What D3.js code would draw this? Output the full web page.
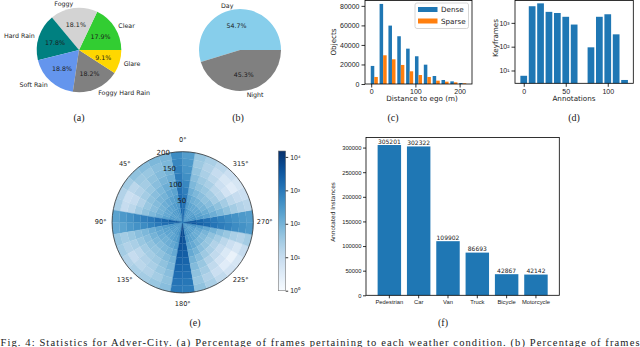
<!DOCTYPE html>
<html lang="en">
  <head>
    <meta charset="UTF-8" />
    <title>Adver-City statistics</title>
    <script src="https://cdn.jsdelivr.net/npm/d3@7"></script>
    <style>
      html,
      body {
        margin: 0;
        padding: 0;
        background: #fff;
      }
      svg {
        display: block;
        font-family: 'DejaVu Sans', sans-serif;
      }
      .serif {
        font-family: 'Liberation Serif', 'Times New Roman', serif;
      }
    </style>
  </head>
  <body>
    <svg width="640" height="347"></svg>
    <script>
      // (a) weather conditions
      const weatherLabels = ['Clear', 'Foggy', 'Hard Rain', 'Soft Rain', 'Foggy Hard Rain', 'Glare'];
      const weatherPct = [17.9, 18.1, 17.8, 18.8, 18.2, 9.1];
      const weatherColors = ['limegreen', 'lightgray', 'teal', 'cornflowerblue', 'gray', 'gold'];

      // (b) time of day
      const timeLabels = ['Day', 'Night'];
      const timePct = [54.7, 45.3];
      const timeColors = ['skyblue', 'gray'];

      // (c) distance histogram, bins of 20 m
      const distBinLeft = [-3, 17, 37, 57, 77, 97, 117, 137, 157, 177, 197];
      const denseCounts = [18500, 82000, 59800, 48900, 36200, 28400, 19800, 8200, 4100, 2700, 1000];
      const sparseCounts = [7200, 29400, 25300, 19500, 13000, 9200, 7200, 3400, 2400, 1700, 700];
      const distTicks = [0, 100, 200];
      const objectTicks = [0, 20000, 40000, 60000, 80000];

      // (d) keyframes per annotation count
      const annotationBins = [0, 10, 20, 30, 40, 50, 60, 70, 80, 90, 100, 110, 120];
      const keyframes = [6, 5000, 6600, 2900, 2600, 1800, 850, 0, 94, 1800, 2300, 330, 4];
      const annotationTicks = [0, 50, 100];
      const keyframeTicks = [10, 100, 1000];

      // (e) polar histogram: 36 sectors of 10 deg (counter-clockwise from 0 deg at top),
      // each with 10 rings of 20 m from the centre outwards
      const polarAngles = [0, 45, 90, 135, 180, 225, 270, 315];
      const polarRadii = [50, 100, 150, 200];
      const polarCounts = [
        [2500, 2200, 2000, 1700, 1400, 1100, 900, 700, 600, 500],
        [600, 400, 300, 250, 200, 150, 120, 100, 80, 90],
        [400, 300, 250, 200, 150, 120, 90, 70, 60, 80],
        [350, 250, 200, 150, 100, 80, 60, 50, 40, 60],
        [300, 250, 180, 120, 90, 60, 40, 30, 35, 50],
        [300, 200, 150, 100, 70, 50, 30, 20, 15, 30],
        [350, 250, 150, 100, 60, 40, 20, 10, 8, 20],
        [500, 300, 200, 120, 80, 50, 30, 15, 10, 25],
        [4000, 3000, 2000, 1500, 1000, 800, 600, 400, 300, 200],
        [3000, 2000, 1500, 1000, 700, 500, 400, 300, 200, 150],
        [500, 350, 250, 180, 120, 80, 60, 40, 30, 40],
        [400, 300, 200, 150, 100, 60, 40, 25, 20, 30],
        [350, 250, 180, 120, 80, 50, 30, 15, 10, 20],
        [300, 220, 160, 110, 70, 45, 30, 20, 15, 25],
        [350, 250, 180, 120, 80, 50, 35, 25, 20, 30],
        [400, 300, 220, 150, 100, 70, 50, 40, 30, 40],
        [600, 450, 300, 220, 150, 100, 80, 60, 50, 60],
        [8000, 6000, 5000, 4000, 3000, 2500, 2000, 1500, 1200, 1000],
        [7000, 5000, 4000, 3500, 2800, 2200, 1800, 1400, 1100, 900],
        [600, 400, 300, 200, 150, 100, 70, 50, 40, 50],
        [400, 300, 200, 150, 100, 60, 40, 30, 20, 25],
        [350, 250, 160, 100, 60, 35, 20, 12, 8, 12],
        [300, 200, 130, 80, 45, 25, 12, 6, 3, 6],
        [300, 200, 120, 70, 40, 20, 10, 4, 2, 5],
        [350, 250, 150, 90, 50, 30, 15, 8, 5, 10],
        [600, 400, 250, 150, 100, 60, 40, 25, 20, 30],
        [5000, 3500, 2500, 1800, 1200, 900, 700, 500, 400, 300],
        [4000, 3000, 2000, 1400, 1000, 700, 500, 400, 300, 250],
        [500, 350, 250, 180, 120, 80, 50, 30, 20, 15],
        [400, 300, 200, 130, 80, 50, 30, 15, 10, 8],
        [350, 250, 160, 100, 60, 30, 15, 6, 3, 5],
        [300, 220, 150, 90, 50, 30, 15, 8, 5, 8],
        [300, 220, 150, 100, 60, 40, 25, 15, 10, 15],
        [350, 250, 180, 120, 80, 50, 35, 25, 20, 25],
        [500, 350, 250, 180, 120, 80, 60, 45, 35, 40],
        [2000, 1600, 1300, 1000, 800, 600, 450, 350, 300, 250]
      ];
      const colorbarTicks = [1, 10, 100, 1000, 10000];

      // (f) instances per class
      const classes = ['Pedestrian', 'Car', 'Van', 'Truck', 'Bicycle', 'Motorcycle'];
      const instances = [305201, 302322, 109902, 86693, 42867, 42142];
      const instanceTicks = [0, 50000, 100000, 150000, 200000, 250000, 300000];

      const caption =
        'Fig. 4: Statistics for Adver-City. (a) Percentage of frames pertaining to each weather condition. (b) Percentage of frames';

      const svg = d3.select('svg');
      const sup = { 0: '\u2070', 1: '\u00b9', 2: '\u00b2', 3: '\u00b3', 4: '\u2074' };
      const pow10 = d => '10' + sup[Math.round(Math.log10(d))];
      const plain = d3.format('d');
      const blue = '#1f77b4';
      const orange = '#ff7f0e';
      const ink = '#1a1a1a';

      function styleAxis(g, size) {
        g.select('.domain').remove();
        g.selectAll('line').attr('stroke', '#000').attr('stroke-width', 0.8);
        g.selectAll('text').attr('fill', ink).style('font-size', size + 'px');
      }

      // ---------- pies (matplotlib style: start at 3 o'clock, counter-clockwise)
      function drawPie(cx, cy, r, values, labels, colors) {
        const pie = d3
          .pie()
          .sort(null)
          .startAngle(Math.PI / 2)
          .endAngle(Math.PI / 2 - 2 * Math.PI);
        const arcs = pie(values);
        const arc = d3.arc().innerRadius(0).outerRadius(r);
        const g = svg.append('g').attr('transform', `translate(${cx},${cy})`);
        g.selectAll('path')
          .data(arcs)
          .enter()
          .append('path')
          .attr('d', arc)
          .attr('fill', (d, i) => colors[i]);
        arcs.forEach((d, i) => {
          const m = (d.startAngle + d.endAngle) / 2;
          const sx = Math.sin(m);
          const sy = -Math.cos(m);
          g.append('text')
            .attr('x', sx * r * 1.1)
            .attr('y', sy * r * 1.1)
            .attr('text-anchor', sx > 0 ? 'start' : 'end')
            .attr('dominant-baseline', 'central')
            .style('font-size', '6.3px')
            .attr('fill', ink)
            .text(labels[i]);
          g.append('text')
            .attr('x', sx * r * 0.6)
            .attr('y', sy * r * 0.6)
            .attr('text-anchor', 'middle')
            .attr('dominant-baseline', 'central')
            .style('font-size', '6.3px')
            .attr('fill', ink)
            .text(values[i].toFixed(1) + '%');
        });
      }
      drawPie(79, 50, 42.3, weatherPct, weatherLabels, weatherColors);
      drawPie(240, 50, 41, timePct, timeLabels, timeColors);

      // ---------- (c) histogram
      const cL = 365, cR = 472, cT = 0.5, cB = 84;
      const xC = d3.scaleLinear().domain([-14, 228]).range([cL, cR]);
      const yC = d3.scaleLinear().domain([0, 85500]).range([cB, cT]);
      const gC = svg.append('g');
      gC.selectAll('rect.dense')
        .data(denseCounts)
        .enter()
        .append('rect')
        .attr('x', (d, i) => xC(distBinLeft[i] + 2))
        .attr('width', (d, i) => xC(distBinLeft[i] + 10) - xC(distBinLeft[i] + 2))
        .attr('y', d => yC(d))
        .attr('height', d => cB - yC(d))
        .attr('fill', blue);
      gC.selectAll('rect.sparse')
        .data(sparseCounts)
        .enter()
        .append('rect')
        .attr('x', (d, i) => xC(distBinLeft[i] + 10))
        .attr('width', (d, i) => xC(distBinLeft[i] + 18) - xC(distBinLeft[i] + 10))
        .attr('y', d => yC(d))
        .attr('height', d => cB - yC(d))
        .attr('fill', orange);
      gC.append('g')
        .attr('transform', `translate(0,${cB})`)
        .call(d3.axisBottom(xC).tickValues(distTicks).tickFormat(plain).tickSize(3.5).tickPadding(2))
        .call(g => styleAxis(g, 7));
      gC.append('g')
        .attr('transform', `translate(${cL},0)`)
        .call(d3.axisLeft(yC).tickValues(objectTicks).tickFormat(plain).tickSize(3.5).tickPadding(2))
        .call(g => styleAxis(g, 7));
      gC.append('rect')
        .attr('x', cL).attr('y', cT).attr('width', cR - cL).attr('height', cB - cT)
        .attr('fill', 'none').attr('stroke', '#000').attr('stroke-width', 0.8);
      gC.append('text')
        .attr('transform', 'translate(333.5,42) rotate(-90)')
        .attr('text-anchor', 'middle').attr('dominant-baseline', 'central')
        .attr('fill', ink).style('font-size', '7.2px').text('Objects');
      gC.append('text')
        .attr('x', 422).attr('y', 98.5)
        .attr('text-anchor', 'middle').attr('dominant-baseline', 'central')
        .attr('fill', ink).style('font-size', '7.2px').text('Distance to ego (m)');
      // legend
      const lg = gC.append('g');
      lg.append('rect')
        .attr('x', 415).attr('y', 3).attr('width', 53.5).attr('height', 25.5)
        .attr('rx', 2).attr('fill', '#fff').attr('fill-opacity', 0.8)
        .attr('stroke', '#ccc').attr('stroke-width', 0.8);
      [['Dense', blue], ['Sparse', orange]].forEach(([t, c], i) => {
        const y = 9.5 + i * 11.5;
        lg.append('rect').attr('x', 418).attr('y', y - 2.5).attr('width', 19.5).attr('height', 5).attr('fill', c);
        lg.append('text').attr('x', 441).attr('y', y)
          .attr('dominant-baseline', 'central').attr('fill', ink).style('font-size', '7.2px').text(t);
      });

      // ---------- (d) log bars
      const dL = 515, dR = 633.3, dT = 0.5, dB = 83.3;
      const xD = d3.scaleLinear().domain([-10.4, 130.4]).range([dL, dR]);
      const yD = d3.scaleLog().domain([2.9, 8700]).range([dB, dT]);
      const gD = svg.append('g');
      gD.selectAll('rect.bar')
        .data(annotationBins.map((b, i) => ({ b, v: keyframes[i] })).filter(d => d.v > 0))
        .enter()
        .append('rect')
        .attr('x', d => xD(d.b - 4))
        .attr('width', d => xD(d.b + 4) - xD(d.b - 4))
        .attr('y', d => yD(d.v))
        .attr('height', d => dB - yD(d.v))
        .attr('fill', blue);
      gD.append('g')
        .attr('transform', `translate(0,${dB})`)
        .call(d3.axisBottom(xD).tickValues(annotationTicks).tickFormat(plain).tickSize(3.5).tickPadding(2))
        .call(g => styleAxis(g, 7));
      gD.append('g')
        .attr('transform', `translate(${dL},0)`)
        .call(d3.axisLeft(yD).tickValues(keyframeTicks).tickFormat(pow10).tickSize(3.5).tickPadding(2))
        .call(g => styleAxis(g, 7));
      gD.append('rect')
        .attr('x', dL).attr('y', dT).attr('width', dR - dL).attr('height', dB - dT)
        .attr('fill', 'none').attr('stroke', '#000').attr('stroke-width', 0.8);
      gD.append('text')
        .attr('transform', 'translate(495,38) rotate(-90)')
        .attr('text-anchor', 'middle').attr('dominant-baseline', 'central')
        .attr('fill', ink).style('font-size', '7.2px').text('Keyframes');
      gD.append('text')
        .attr('x', 574).attr('y', 98.5)
        .attr('text-anchor', 'middle').attr('dominant-baseline', 'central')
        .attr('fill', ink).style('font-size', '7.2px').text('Annotations');

      // ---------- (e) polar histogram
      const ex = 182.7, ey = 222.3, eR = 70.6;
      const rE = d3.scaleLinear().domain([0, 200]).range([0, eR]);
      const colorE = d3.scaleSequentialLog(d3.interpolateBlues).domain([1, 15000]);
      const gE = svg.append('g').attr('transform', `translate(${ex},${ey})`);
      const cellArc = d3.arc();
      const cells = [];
      polarCounts.forEach((row, k) => {
        row.forEach((v, j) => cells.push({ k, j, v }));
      });
      const rad = Math.PI / 180;
      gE.selectAll('path.cell')
        .data(cells)
        .enter()
        .append('path')
        .attr('d', d =>
          cellArc({
            innerRadius: rE(d.j * 20),
            outerRadius: rE((d.j + 1) * 20),
            startAngle: -(d.k * 10 + 10) * rad,
            endAngle: -d.k * 10 * rad
          })
        )
        .attr('fill', d => colorE(Math.max(1, d.v)))
        .attr('stroke', d => colorE(Math.max(1, d.v)))
        .attr('stroke-width', 0.3);
      gE.append('circle').attr('r', eR).attr('fill', 'none').attr('stroke', '#333').attr('stroke-width', 0.8);
      gE.selectAll('text.theta')
        .data(polarAngles)
        .enter()
        .append('text')
        .attr('x', a => -82 * Math.sin(a * rad))
        .attr('y', a => -82 * Math.cos(a * rad))
        .attr('text-anchor', 'middle').attr('dominant-baseline', 'central')
        .attr('fill', ink).style('font-size', '6.6px')
        .text(a => a + '\u00b0');
      gE.selectAll('text.r')
        .data(polarRadii)
        .enter()
        .append('text')
        .attr('x', v => -rE(v) * 0.35 + 5.2)
        .attr('y', v => -rE(v) * 0.9 - 5.4)
        .attr('text-anchor', 'middle').attr('dominant-baseline', 'central')
        .attr('fill', ink).style('font-size', '7px')
        .text(v => v);

      // colorbar
      const cbX = 278.3, cbW = 7.4, cbT = 151, cbB = 290.7;
      const yCb = d3.scaleLog().domain([1, 15000]).range([cbB, cbT]);
      const grad = svg.append('defs').append('linearGradient')
        .attr('id', 'cbgrad').attr('x1', 0).attr('y1', 1).attr('x2', 0).attr('y2', 0);
      d3.range(0, 1.0001, 0.05).forEach(t => {
        grad.append('stop').attr('offset', t).attr('stop-color', d3.interpolateBlues(t));
      });
      svg.append('rect')
        .attr('x', cbX).attr('y', cbT).attr('width', cbW).attr('height', cbB - cbT)
        .attr('fill', 'url(#cbgrad)').attr('stroke', '#777').attr('stroke-width', 0.6);
      svg.append('g')
        .attr('transform', `translate(${cbX + cbW},0)`)
        .call(d3.axisRight(yCb).tickValues(colorbarTicks).tickFormat(pow10).tickSize(2.5).tickPadding(2))
        .call(g => styleAxis(g, 6.8));

      // ---------- (f) class bars
      const fL = 366, fR = 559.3, fT = 137.5, fB = 295.3;
      const xF = d3.scaleBand().domain(classes).range([fL + (0.29 - 0.1) * 30.3, fR - (0.29 - 0.1) * 30.3]).padding(0.2);
      const yF = d3.scaleLinear().domain([0, 320460]).range([fB, fT]);
      const gF = svg.append('g');
      gF.selectAll('rect.bar')
        .data(instances)
        .enter()
        .append('rect')
        .attr('x', (d, i) => xF(classes[i]))
        .attr('width', xF.bandwidth())
        .attr('y', d => yF(d))
        .attr('height', d => fB - yF(d))
        .attr('fill', blue);
      gF.selectAll('text.val')
        .data(instances)
        .enter()
        .append('text')
        .attr('x', (d, i) => xF(classes[i]) + xF.bandwidth() / 2)
        .attr('y', d => yF(d) - 1.3)
        .attr('text-anchor', 'middle')
        .attr('fill', ink).style('font-size', '6px')
        .text(d => d);
      gF.append('g')
        .attr('transform', `translate(0,${fB})`)
        .call(d3.axisBottom(xF).tickSize(3).tickPadding(1.5))
        .call(g => styleAxis(g, 5.8));
      gF.append('g')
        .attr('transform', `translate(${fL},0)`)
        .call(d3.axisLeft(yF).tickValues(instanceTicks).tickFormat(plain).tickSize(3).tickPadding(1.5))
        .call(g => styleAxis(g, 5.8));
      gF.append('rect')
        .attr('x', fL).attr('y', fT).attr('width', fR - fL).attr('height', fB - fT)
        .attr('fill', 'none').attr('stroke', '#000').attr('stroke-width', 0.8);
      gF.append('text')
        .attr('transform', 'translate(332.7,212) rotate(-90)')
        .attr('text-anchor', 'middle').attr('dominant-baseline', 'central')
        .attr('fill', ink).style('font-size', '5.8px').text('Annotated Instances');

      // ---------- sub-captions and caption
      [['(a)', 79, 117], ['(b)', 238, 117], ['(c)', 393, 117], ['(d)', 574, 117.5], ['(e)', 195, 322.5], ['(f)', 443, 322.5]].forEach(
        ([t, x, y]) => {
          svg.append('text')
            .attr('class', 'serif')
            .attr('x', x).attr('y', y)
            .attr('text-anchor', 'middle').attr('dominant-baseline', 'central')
            .attr('fill', ink).style('font-size', '10px')
            .text(t);
        }
      );
      svg.append('text')
        .attr('class', 'serif')
        .attr('x', 0.5).attr('y', 345.5)
        .attr('textLength', 639).attr('lengthAdjust', 'spacing')
        .attr('fill', ink).style('font-size', '10.5px')
        .text(caption);
    </script>
  </body>
</html>
